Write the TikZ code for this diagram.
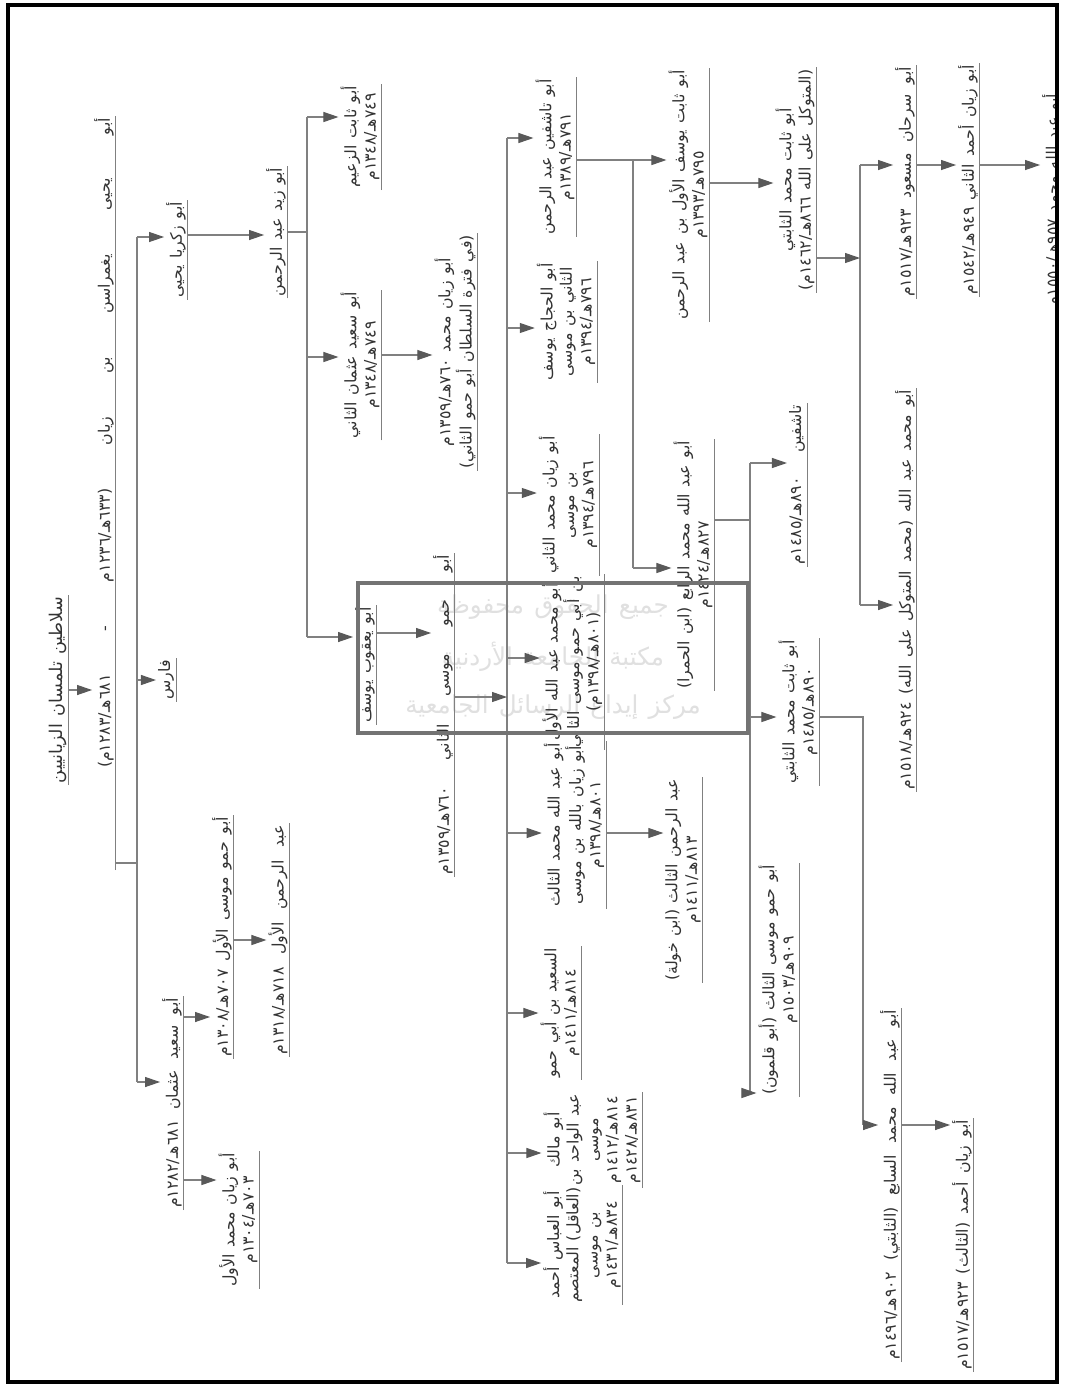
\documentclass[tikz,border=0pt]{standalone}
\usepackage{fontspec}
\newfontfamily\arabicfont[Script=Arabic, WordSpace=1.3]{DejaVu Sans}
\TeXXeTstate=1
\usetikzlibrary{arrows.meta}
\newcommand{\rl}[1]{\beginR#1\endR}
\newcommand{\rls}[2]{\makebox[#1][s]{#2}}

\begin{document}
\begin{tikzpicture}[
  x=0.02cm, y=-0.02cm,
  ln/.style={draw=black!50, line width=0.6pt},
  arr/.style={ln, -{Triangle[length=3mm, width=2mm, color=black!65]}},
  ul/.style={append after command={\pgfextra{\let\ulnode\tikzlastnode} (\ulnode.south west) edge[ln] (\ulnode.south east)}},
  sultan/.style={rotate=90, inner sep=1pt, align=center, text=black!80, font=\arabicfont\fontsize{9}{11}\selectfont, ul},
  stamp/.style={inner sep=0pt, text=black!12, font=\arabicfont\fontsize{14}{16}\selectfont}
]
\useasboundingbox (0,0) rectangle (1065,1387);
\fill[white] (0,0) rectangle (1065,1387);

% library stamp (under the chart)
\node[stamp] (st1) at (553,607) {\rl{جميع الحقوق محفوظة}};
\node[stamp] (st2) at (553,657) {\rl{مكتبة الجامعة الأردنية}};
\node[stamp] (st3) at (553,707) {\rl{مركز إيداع الرسائل الجامعية}};

% generations, left to right
\node[sultan, font=\arabicfont\fontsize{10}{12}\selectfont] (title) at (58,690) {\rl{سلاطين تلمسان الزيانيين}};
\node[sultan] (yag) at (104,493) {\makebox[15cm][r]{\rls{13cm}{\beginR أبو يحيى يغمراسن بن زيان (٦٣٣هـ/١٢٣٦م - ٦٨١هـ/١٢٨٣م)\endR}}};

\node[sultan] (yahya) at (176,250) {\rl{أبو زكريا يحيى}};
\node[sultan] (faris) at (166,680) {\rl{فارس}};
\node[sultan] (uthman) at (172,1103) {\rls{4.2cm}{\beginR أبو سعيد عثمان ٦٨١هـ/١٢٨٢م\endR}};

\node[sultan] (zayd) at (276,232) {\rl{أبو زيد عبد الرحمن}};
\node[sultan] (hammu1) at (222,937) {\rls{4.8cm}{\beginR أبو حمو موسى الأول ٧٠٧هـ/١٣٠٨م\endR}};
\node[sultan] (rahman1) at (278,940) {\rls{4.6cm}{\beginR عبد الرحمن الأول ٧١٨هـ/١٣١٨م\endR}};
\node[sultan] (zayyan1) at (238,1220) {\rl{أبو زيان محمد الأول}\\\rl{٧٠٣هـ/١٣٠٤م}};

\node[sultan] (thabit1) at (360,137) {\rl{أبو ثابت الزعيم}\\\rl{٧٤٩هـ/١٣٤٨م}};
\node[sultan] (uthman2) at (360,365) {\rl{أبو سعيد عثمان الثاني}\\\rl{٧٤٩هـ/١٣٤٨م}};
\node[sultan] (yusuf) at (365,665) {\rl{أبو يعقوب يوسف}};

\node[sultan] (zayyan) at (455,352) {\rl{أبو زيان محمد ٧٦٠هـ/١٣٥٩م}\\\rl{(في فترة السلطان أبو حمو الثاني)}};
\node[sultan] (hammu2) at (443,715) {\rls{6.4cm}{\beginR أبو حمو موسى الثاني ٧٦٠هـ/١٣٥٩م\endR}};

\node[sultan] (tashfin2) at (555,157) {\rl{أبو تاشفين عبد الرحمن}\\\rl{٧٩١هـ/١٣٨٩م}};
\node[sultan] (hajjaj) at (566,322) {\rl{أبو الحجاج يوسف}\\\rl{الثاني بن موسى}\\\rl{٧٩٦هـ/١٣٩٤م}};
\node[sultan] (zayyan2) at (568,505) {\rl{أبو زيان محمد الثاني}\\\rl{بن موسى}\\\rl{٧٩٦هـ/١٣٩٤م}};
\node[sultan] (abdallah1) at (572,662) {\rl{أبو محمد عبد الله الأول}\\\rl{بن أبي حمو موسى الثاني}\\\rl{(٨٠١هـ/١٣٩٨م)}};
\node[sultan] (muhammad3) at (574,825) {\rl{أبو عبد الله محمد الثالث}\\\rl{أبو زيان بالله بن موسى}\\\rl{٨٠١هـ/١٣٩٨م}};
\node[sultan] (said) at (560,1013) {\rl{السعيد بن أبي حمو}\\\rl{٨١٤هـ/١٤١١م}};
\node[sultan] (malik) at (592,1140) {\rl{أبو مالك}\\\rl{عبد الواحد بن}\\\rl{موسى}\\\rl{٨١٤هـ/١٤١٢م}\\\rl{٨٣١هـ/١٤٢٨م}};
\node[sultan] (abbas) at (582,1245) {\rl{أبو العباس أحمد}\\\rl{(العاقل) المعتصم}\\\rl{بن موسى}\\\rl{٨٣٤هـ/١٤٣١م}};

\node[sultan] (thabit2) at (688,195) {\rls{5cm}{\beginR أبو ثابت يوسف الأول بن عبد الرحمن\endR}\\\rl{٧٩٥هـ/١٣٩٣م}};
\node[sultan] (hamra) at (693,565) {\rl{أبو عبد الله محمد الرابع (ابن الحمرا)}\\\rl{٨٢٧هـ/١٤٢٤م}};
\node[sultan] (rahman3) at (683,880) {\rl{عبد الرحمن الثالث (ابن خولة)}\\\rl{٨١٣هـ/١٤١١م}};

\node[sultan] (thabitM) at (795,180) {\rl{أبو ثابت محمد الثابتي}\\\rl{(المتوكل على الله ٨٦٦هـ/١٤٦٢م)}};
\node[sultan] (tashfin3) at (797,485) {\rls{3.2cm}{\beginR تاشفين ٨٩٠هـ/١٤٨٥م\endR}};
\node[sultan] (thabiti) at (798,712) {\rl{أبو ثابت محمد الثابتي}\\\rl{٨٩٠هـ/١٤٨٥م}};
\node[sultan] (qalmun) at (778,980) {\rl{أبو حمو موسى الثالث (أبو قلمون)}\\\rl{٩٠٩هـ/١٥٠٣م}};

\node[sultan] (sarhan) at (905,182) {\rls{4.6cm}{\beginR أبو سرحان مسعود ٩٢٣هـ/١٥١٧م\endR}};
\node[sultan] (mutaw) at (905,590) {\rls{8cm}{\beginR أبو محمد عبد الله (محمد المتوكل على الله) ٩٢٤هـ/١٥١٨م\endR}};
\node[sultan] (muh7) at (890,1185) {\rls{7cm}{\beginR أبو عبد الله محمد السابع (الثابتي) ٩٠٢هـ/١٤٩٦م\endR}};
\node[sultan] (ahmad2) at (968,180) {\rls{4.6cm}{\beginR أبو زيان أحمد الثاني ٩٤٩هـ/١٥٤٢م\endR}};
\node[sultan] (zayyan3) at (962,1245) {\rls{5cm}{\beginR أبو زيان أحمد (الثالث) ٩٢٣هـ/١٥١٧م\endR}};
\begin{scope}
  \clip (10,7) rectangle (1055,1380);
  \node[sultan] (cutnode) at (1052,200) {\rl{أبو عبد الله محمد ٩٥٧هـ/١٥٥٠م}};
\end{scope}

% connectors
\draw[arr] (title.south |- 0,690) -- (yag.north |- 0,690);

\coordinate (b1t) at (137,237);
\coordinate (b1m) at (137,680);
\coordinate (b1p) at (137,863);
\coordinate (b1b) at (137,1082);
\draw[ln] (b1t) -- (b1b);
\draw[ln] (yag.south |- b1p) -- (b1p);
\draw[arr] (b1t) -- (yahya.north |- b1t);
\draw[arr] (b1m) -- (faris.north |- b1m);
\draw[arr] (b1b) -- (uthman.north |- b1b);

\draw[arr] (yahya.south |- 0,235) -- (zayd.north |- 0,235);
\draw[arr] (uthman.south |- 0,1017) -- (hammu1.north |- 0,1017);
\draw[arr] (uthman.south |- 0,1180) -- (zayyan1.north |- 0,1180);
\draw[arr] (hammu1.south |- 0,940) -- (rahman1.north |- 0,940);

\coordinate (b2t) at (307,117);
\coordinate (b2p) at (307,232);
\coordinate (b2m) at (307,357);
\coordinate (b2b) at (307,637);
\draw[ln] (b2t) -- (b2b);
\draw[ln] (zayd.south |- b2p) -- (b2p);
\draw[arr] (b2t) -- (thabit1.north |- b2t);
\draw[arr] (b2m) -- (uthman2.north |- b2m);
\draw[arr] (b2b) -- (yusuf.north |- b2b);

\draw[arr] (uthman2.south |- 0,355) -- (zayyan.north |- 0,355);
\draw[arr] (yusuf.south |- 0,633) -- (hammu2.north |- 0,633);

\coordinate (b3t) at (507,138);
\coordinate (b3p) at (507,697);
\coordinate (b3b) at (507,1263);
\draw[ln] (b3t) -- (b3b);
\draw[arr] (hammu2.south |- b3p) -- (b3p);
\draw[arr] (b3t) -- (tashfin2.north |- b3t);
\draw[arr] (507,328) -- (hajjaj.north |- 0,328);
\draw[arr] (507,493) -- (zayyan2.north |- 0,493);
\draw[arr] (507,658) -- (abdallah1.north |- 0,658);
\draw[arr] (507,833) -- (muhammad3.north |- 0,833);
\draw[arr] (507,1013) -- (said.north |- 0,1013);
\draw[arr] (507,1153) -- (malik.north |- 0,1153);
\draw[arr] (b3b) -- (abbas.north |- b3b);

\coordinate (b4t) at (633,160);
\coordinate (b4b) at (633,568);
\draw[ln] (tashfin2.south |- b4t) -- (b4t) -- (b4b);
\draw[arr] (b4t) -- (thabit2.north |- b4t);
\draw[arr] (b4b) -- (hamra.north |- b4b);
\draw[arr] (muhammad3.south |- 0,833) -- (rahman3.north |- 0,833);
\draw[arr] (thabit2.south |- 0,183) -- (thabitM.north |- 0,183);

\coordinate (b5t) at (860,165);
\coordinate (b5p) at (860,258);
\coordinate (b5b) at (860,605);
\draw[ln] (b5t) -- (b5b);
\draw[arr] (thabitM.south |- b5p) -- (b5p);
\draw[arr] (b5t) -- (sarhan.north |- b5t);
\draw[arr] (b5b) -- (mutaw.north |- b5b);
\draw[arr] (sarhan.south |- 0,165) -- (ahmad2.north |- 0,165);
\draw[arr] (ahmad2.south |- 0,165) -- (cutnode.north |- 0,165);

\coordinate (b6t) at (750,463);
\coordinate (b6p) at (750,520);
\coordinate (b6m) at (750,717);
\coordinate (b6b) at (750,1093);
\draw[ln] (b6t) -- (b6b);
\draw[ln] (hamra.south |- b6p) -- (b6p);
\draw[arr] (b6t) -- (tashfin3.north |- b6t);
\draw[arr] (b6m) -- (thabiti.north |- b6m);
\draw[arr] (b6b) -- (qalmun.north |- b6b);

\coordinate (b7t) at (863,717);
\coordinate (b7b) at (863,1125);
\draw[ln] (thabiti.south |- b7t) -- (b7t) -- (b7b);
\draw[arr] (b7b) -- (muh7.north |- b7b);
\draw[arr] (muh7.south |- 0,1125) -- (zayyan3.north |- 0,1125);

% stamp frame over the chart
\draw[draw=black!55, line width=2.6pt] (358,583) rectangle (748,733);
% page frame
\draw[line width=2.5pt] (8,5) rectangle (1057,1382);
\end{tikzpicture}
\end{document}
